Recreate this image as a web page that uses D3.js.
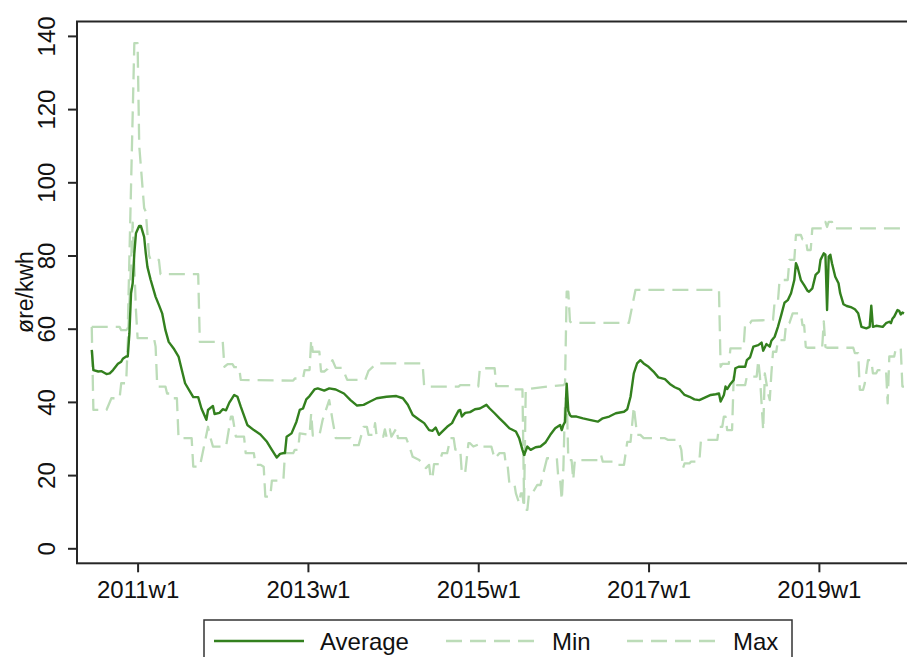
<!DOCTYPE html>
<html>
<head>
<meta charset="utf-8">
<script src="https://cdn.jsdelivr.net/npm/d3@7"></script>
<style>
  html, body { margin: 0; padding: 0; background: #fff; }
  svg { display: block; }
  text { font-family: Helvetica, Arial, "Liberation Sans", sans-serif; fill: #111; }
</style>
</head>
<body>
<svg id="chart" width="907" height="657"></svg>
<script>
// Weekly electricity price (øre/kwh). Week index counts weeks from 2011w1 (52 weeks per year).
const avgSeries = [
  [-28,54.2],[-27,48.7],[-24,48.3],[-22,48.4],[-19,47.6],[-17,47.8],[-15,48.7],[-12,50.4],[-10,51.0],[-9,51.8],
  [-7,52.4],[-6,52.4],[-5,58.7],[-4,69.7],[-3,72.4],[-2,80.6],[-1,86.1],[1,88.1],[2,88.1],[4,85.1],
  [5,80.6],[6,76.9],[8,73.3],[11,68.7],[13,66.5],[15,64.2],[17,59.6],[19,56.4],[22,54.6],[25,52.4],
  [27,48.7],[29,45.1],[32,42.8],[34,41.3],[37,41.3],[39,38.2],[42,35.1],[43,37.8],[46,38.9],[47,36.7],
  [50,37.0],[52,38.0],[54,37.7],[56,39.8],[57,40.5],[59,41.9],[61,41.4],[63,38.7],[67,33.7],[71,32.3],
  [75,31.1],[79,29.1],[82,26.9],[85,24.8],[87,25.8],[90,26.1],[91,30.5],[94,31.4],[97,34.6],[99,37.8],
  [101,38.2],[103,40.7],[105,41.6],[108,43.4],[110,43.7],[114,43.1],[117,43.7],[121,43.4],[126,42.3],[130,40.5],
  [134,39.0],[138,39.2],[142,40.1],[146,41.0],[152,41.4],[158,41.6],[162,41.0],[165,39.2],[168,36.4],[172,35.1],
  [175,34.2],[178,32.3],[180,32.1],[182,33.0],[184,31.0],[186,31.9],[189,33.2],[192,34.2],[194,36.0],[196,37.6],
  [197,37.8],[198,36.0],[200,37.0],[203,37.2],[206,38.0],[209,38.2],[213,39.2],[215,38.2],[218,36.9],[221,35.5],
  [224,34.2],[227,32.8],[231,31.9],[233,30.1],[235,26.9],[236,25.5],[238,27.8],[240,26.9],[243,27.6],[246,27.8],
  [249,28.9],[252,31.0],[255,32.8],[258,33.7],[259,32.3],[260,33.7],[261,34.5],[262,45.0],[263,37.5],[264,36.4],
  [265,36.0],[268,36.0],[272,35.5],[276,35.1],[281,34.6],[284,35.5],[288,36.0],[292,36.9],[297,37.3],[299,38.0],
  [301,41.4],[303,47.8],[305,50.5],[307,51.4],[309,50.5],[312,49.6],[315,48.3],[318,46.7],[322,46.2],[325,44.9],
  [328,44.0],[331,43.4],[334,41.9],[337,41.4],[340,40.7],[343,40.5],[347,41.3],[350,41.9],[353,42.1],[355,42.3],
  [356,40.1],[358,41.9],[359,44.2],[360,43.5],[362,44.9],[364,46.0],[365,49.2],[367,49.6],[371,49.6],[372,51.4],
  [374,52.2],[376,55.1],[379,55.5],[381,56.2],[382,54.0],[384,55.8],[386,55.1],[387,56.7],[389,57.8],[391,60.5],
  [393,63.7],[395,67.1],[397,67.8],[399,69.7],[401,73.3],[402,77.9],[403,76.8],[405,73.3],[407,71.9],[409,70.4],
  [410,70.1],[412,71.0],[414,74.7],[416,75.6],[417,78.8],[419,80.6],[420,80.2],[421,65.1],[422,79.7],[423,80.2],
  [424,77.9],[426,74.2],[428,72.4],[429,69.7],[431,66.7],[433,66.2],[436,65.8],[438,65.3],[440,64.2],[442,60.5],
  [445,60.1],[447,60.5],[448,66.3],[449,60.5],[451,60.8],[455,60.5],[457,61.5],[459,61.9],[460,61.5],[461,62.8],
  [462,63.3],[464,65.1],[465,64.9],[466,63.9],[467,64.4],[468,64.2]
];

const minSeries = [
  [-28,60.5],[-27,37.8],[-19,37.8],[-16,41.0],[-11,41.0],[-10,45.1],[-7,45.1],[-3,89.0],[-1,65.0],[0,57.4],
  [10,57.4],[11,55.1],[12,44.2],[17,44.2],[18,42.3],[20,42.3],[21,41.0],[24,41.0],[25,30.1],[33,30.1],
  [34,22.3],[38,22.3],[43,33.2],[44,31.0],[46,27.8],[54,27.8],[57,36.0],[58,36.0],[60,30.5],[65,30.5],
  [66,26.0],[71,26.0],[72,22.8],[75,22.8],[77,22.3],[78,14.1],[81,14.1],[82,18.5],[89,18.5],[90,26.0],
  [95,26.0],[96,26.9],[98,26.9],[99,31.4],[105,31.0],[106,36.9],[107,30.8],[111,30.8],[113,35.1],[117,40.5],
  [119,35.1],[121,30.1],[130,30.1],[131,28.2],[135,28.2],[138,33.2],[140,33.2],[141,31.0],[144,31.0],[145,34.2],
  [146,30.5],[150,30.5],[151,32.5],[152,30.5],[154,32.5],[155,30.5],[158,32.8],[159,30.1],[164,30.1],[166,27.8],
  [168,25.0],[172,24.1],[176,21.9],[178,22.8],[179,19.1],[180,19.1],[181,23.0],[184,23.0],[186,26.0],[189,26.0],
  [191,30.1],[193,30.1],[194,27.0],[197,27.0],[198,20.5],[200,20.5],[202,28.7],[203,28.7],[205,27.8],[210,28.7],
  [211,27.8],[216,27.8],[218,24.5],[221,26.0],[224,26.0],[225,22.3],[226,22.3],[227,17.8],[230,17.8],[231,15.0],
  [233,12.3],[234,15.0],[235,15.0],[236,10.5],[238,10.5],[239,15.0],[241,15.0],[244,17.3],[246,17.3],[250,24.6],
  [256,24.6],[257,18.7],[258,18.7],[259,13.2],[260,22.0],[261,40.0],[262,42.0],[263,24.1],[265,24.1],[266,18.7],
  [267,24.1],[282,24.1],[283,25.5],[284,23.7],[291,23.7],[292,22.8],[297,22.8],[299,29.1],[301,29.1],[303,38.7],
  [305,31.0],[307,31.0],[309,30.1],[322,30.1],[324,29.6],[330,29.6],[332,26.9],[333,21.9],[334,23.2],[337,23.2],
  [338,23.7],[343,23.7],[344,29.6],[354,29.6],[355,33.2],[357,33.2],[358,36.0],[359,36.0],[360,32.3],[363,32.3],
  [364,46.9],[365,46.9],[366,44.6],[371,44.6],[372,46.9],[378,46.9],[379,51.4],[380,47.0],[382,32.3],[383,47.8],
  [385,42.3],[386,40.5],[387,47.8],[388,53.7],[390,53.7],[391,56.9],[395,56.9],[396,61.5],[398,61.5],[400,64.2],
  [405,64.2],[406,61.0],[407,61.0],[408,55.0],[409,54.8],[418,54.8],[419,62.0],[420,55.0],[421,54.8],[437,54.8],
  [438,53.3],[440,53.3],[441,43.3],[443,43.3],[444,45.0],[446,51.4],[448,51.4],[449,47.8],[451,47.8],[452,48.7],
  [457,48.7],[458,39.6],[459,52.4],[462,52.4],[463,54.6],[466,54.6],[467,44.2],[468,44.2]
];

const maxSeries = [
  [-28,60.5],[-11,60.5],[-10,59.6],[-7,59.6],[-6,60.0],[-2,138.0],[0,138.0],[1,110.0],[4,93.0],[5,92.0],
  [7,80.0],[8,78.8],[13,78.8],[14,74.9],[37,74.9],[38,56.4],[52,56.4],[53,49.6],[55,50.3],[58,50.3],
  [59,49.5],[62,49.5],[63,46.0],[95,45.8],[96,46.4],[101,46.4],[102,48.7],[105,48.7],[106,56.9],[107,53.7],
  [111,53.7],[112,48.3],[114,48.3],[116,49.0],[119,51.4],[121,49.3],[125,49.3],[128,46.0],[139,46.0],[141,48.5],
  [146,50.5],[174,50.5],[175,44.2],[196,44.2],[197,44.6],[206,44.6],[208,44.2],[209,49.2],[218,49.2],[219,44.3],
  [229,44.3],[230,43.4],[235,43.4],[236,12.4],[237,43.4],[250,44.2],[260,44.6],[261,45.0],[262,70.1],[263,70.1],
  [264,62.0],[265,61.6],[300,61.6],[304,70.6],[355,70.6],[356,49.6],[357,50.4],[361,50.4],[362,54.6],[370,54.6],
  [371,61.5],[374,61.5],[375,62.2],[388,62.4],[389,67.4],[391,67.4],[392,73.3],[397,73.3],[398,78.8],[401,78.8],
  [402,85.6],[405,85.6],[406,84.4],[408,84.4],[409,81.5],[411,81.5],[412,87.4],[418,87.4],[419,89.2],[420,89.2],
  [421,87.8],[422,89.2],[424,89.2],[425,87.4],[468,87.4]
];

const yTicks = [0, 20, 40, 60, 80, 100, 120, 140];
const xTickWeeks = [0, 104, 208, 312, 416];
const xTickLabels = ["2011w1", "2013w1", "2015w1", "2017w1", "2019w1"];
const legendLabels = ["Average", "Min", "Max"];

const avgColor = "#33801e";
const rangeColor = "#bcdcb8";
const axisColor = "#262626";
const fontSize = 24;

const svg = d3.select("#chart");

// plot region
const plotLeft = 77, plotTop = 21.5, plotBottom = 563.3;
const x = d3.scaleLinear().domain([-37, 500]).range([plotLeft, plotLeft + 537 * 1.6377]);
const y = d3.scaleLinear().domain([0, 140]).range([548.3, 35.9]);

svg.append("rect")
  .attr("x", plotLeft).attr("y", plotTop)
  .attr("width", 1000).attr("height", plotBottom - plotTop)
  .attr("fill", "none").attr("stroke", axisColor).attr("stroke-width", 2);

const line = d3.line().x(d => x(d[0])).y(d => y(d[1])).curve(d3.curveLinear);

const dash = "16,8";
[minSeries, maxSeries].forEach(series => {
  svg.append("path").datum(series)
    .attr("d", line).attr("fill", "none")
    .attr("stroke", rangeColor).attr("stroke-width", 2.3)
    .attr("stroke-dasharray", dash).attr("stroke-linejoin", "round");
});
svg.append("path").datum(avgSeries)
  .attr("d", line).attr("fill", "none")
  .attr("stroke", avgColor).attr("stroke-width", 2.4)
  .attr("stroke-linejoin", "round");

// y axis: rotated tick labels
const yAxis = d3.axisLeft(y).tickValues(yTicks).tickSize(9);
const gy = svg.append("g").attr("transform", `translate(${plotLeft},0)`).call(yAxis);
gy.select(".domain").remove();
gy.selectAll(".tick line").attr("stroke", axisColor).attr("stroke-width", 2);
gy.selectAll(".tick text")
  .attr("font-size", fontSize)
  .attr("fill", "#111")
  .attr("text-anchor", "middle")
  .attr("x", null).attr("dy", null)
  .attr("transform", `translate(${55 - plotLeft},0) rotate(-90)`);

// x axis
const xAxis = d3.axisBottom(x).tickValues(xTickWeeks).tickFormat((d, i) => xTickLabels[i]).tickSize(9).tickPadding(9);
const gx = svg.append("g").attr("transform", `translate(0,${plotBottom})`).call(xAxis);
gx.select(".domain").remove();
gx.selectAll(".tick line").attr("stroke", axisColor).attr("stroke-width", 2);
gx.selectAll(".tick text").attr("font-size", fontSize).attr("dy", "0.71em").attr("fill", "#111");

// y axis title
svg.append("text")
  .attr("transform", "translate(33,292) rotate(-90)")
  .attr("text-anchor", "middle")
  .attr("font-size", 23)
  .text("øre/kwh");

// legend
const lg = svg.append("g");
lg.append("rect").attr("x", 204).attr("y", 620).attr("width", 588).attr("height", 60)
  .attr("fill", "#fff").attr("stroke", "#333").attr("stroke-width", 1.5);
const legendItems = [
  { label: legendLabels[0], x0: 214, x1: 304, tx: 320, color: avgColor, dash: null },
  { label: legendLabels[1], x0: 446, x1: 540, tx: 552, color: rangeColor, dash: dash },
  { label: legendLabels[2], x0: 627, x1: 720, tx: 733, color: rangeColor, dash: dash }
];
legendItems.forEach(it => {
  lg.append("line").attr("x1", it.x0).attr("x2", it.x1).attr("y1", 641).attr("y2", 641)
    .attr("stroke", it.color).attr("stroke-width", 2.3)
    .attr("stroke-dasharray", it.dash);
  lg.append("text").attr("x", it.tx).attr("y", 650).attr("font-size", fontSize).text(it.label);
});
</script>
</body>
</html>
